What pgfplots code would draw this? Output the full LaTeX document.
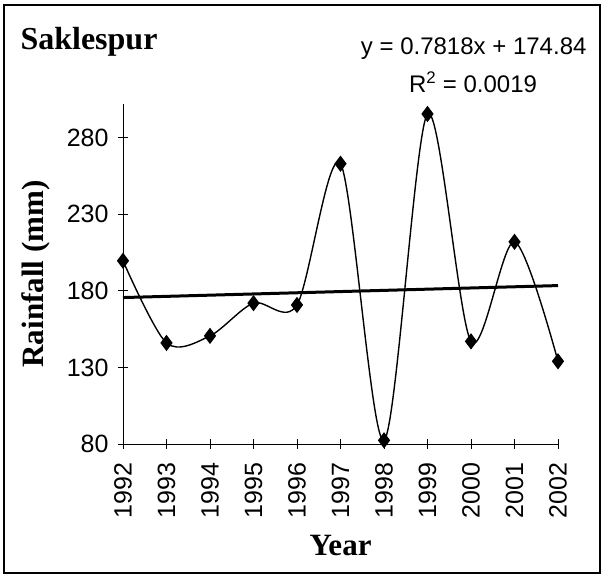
\documentclass[border=0pt]{standalone}
\usepackage{pgfplots}
\pgfplotsset{compat=1.18}
\usepackage{fontspec}
\setmainfont{Liberation Serif}
\newfontfamily\arial{Liberation Sans}
\begin{document}
\begin{tikzpicture}
\useasboundingbox (0pt,0pt) rectangle (604pt,576pt);
\draw[line width=1.2pt] (4pt,3pt) rectangle (600pt,571pt);
\begin{axis}[
  at={(123pt,132pt)}, anchor=south west,
  scale only axis, width=435pt, height=340pt,
  xmin=1992, xmax=2002, ymin=80, ymax=302,
  axis x line=bottom, axis y line=left,
  axis line style={-, line width=1pt},
  xtick={1992,...,2002}, ytick={80,130,180,230,280},
  tick align=center, major tick length=10pt,
  tick style={line width=0.8pt, black},
  /pgf/number format/1000 sep={},
  /pgf/number format/assume math mode=true,
  tick label style={font=\arial\fontsize{25}{29}\selectfont},
  xticklabel style={rotate=90, anchor=east},
  xticklabel shift=10pt,
  yticklabel shift=6pt,
  ylabel={\textbf{Rainfall (mm)}},
  xlabel={\textbf{Year}},
  label style={font=\fontsize{31}{36}\selectfont},
  ylabel style={at={(axis description cs:-0.2,0.5)}, anchor=center},
  xlabel style={at={(axis description cs:0.5,0)}, anchor=center, yshift=-101pt},
  clip=false,
]
\addplot[black, line width=1.4pt, smooth, tension=0.5, mark=diamond*, mark size=7pt, mark options={solid, fill=black}]
coordinates {
(1992,199.6) (1993,146) (1994,150.6) (1995,172) (1996,170.8) (1997,263)
(1998,82.4) (1999,295.5) (2000,147) (2001,212) (2002,134)
};
\addplot[black, line width=3pt] coordinates {(1992,175.62) (2002,183.44)};
\end{axis}
\node[anchor=base west, font=\bfseries\fontsize{32}{36}\selectfont] at (17pt,526pt) {Saklespur};
\node[anchor=base east, font=\arial\fontsize{24}{28}\selectfont] at (590pt,521pt) {y = 0.7818x + 174.84};
\node[anchor=base, font=\arial\fontsize{24}{28}\selectfont] at (473pt,483pt) {R\textsuperscript{2} = 0.0019};
\end{tikzpicture}
\end{document}
